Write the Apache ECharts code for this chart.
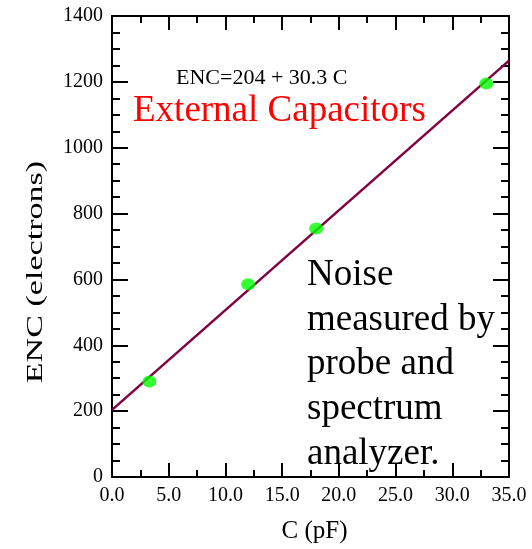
<!DOCTYPE html>
<html>
<head>
<meta charset="utf-8">
<script src="https://cdn.jsdelivr.net/npm/echarts@6/dist/echarts.min.js"></script>
<style>
  html, body { margin: 0; padding: 0; background: #fff; }
  #main { width: 532px; height: 549px; }
</style>
</head>
<body>
<div id="main"></div>
<script>
// measured points
var capPF = [3.3, 12.0, 18.0, 33.0];
var encVals = [290, 585, 755, 1195];
// fit line ENC = 204 + 30.3 C, end points
var fitC = [0, 35];
var fitEnc = [204, 1264.5];
var noteLines = ['Noise', 'measured by', 'probe and', 'spectrum', 'analyzer.'];

var font = '"Liberation Serif", "DejaVu Serif", serif';
var chart = echarts.init(document.getElementById('main'));

var tickX = {
  min: 0, max: 35, interval: 5,
  axisLine: { onZero: false, lineStyle: { color: '#000', width: 2 } },
  axisTick: { inside: true, length: 14, lineStyle: { color: '#000', width: 2 } },
  minorTick: { show: true, splitNumber: 2, length: 7, lineStyle: { color: '#000', width: 2 } },
  splitLine: { show: false }
};
var tickY = {
  min: 0, max: 1400, interval: 200,
  axisLine: { onZero: false, lineStyle: { color: '#000', width: 2 } },
  axisTick: { inside: true, length: 16, lineStyle: { color: '#000', width: 2 } },
  minorTick: { show: true, splitNumber: 4, length: 8, lineStyle: { color: '#000', width: 2 } },
  splitLine: { show: false }
};

var option = {
  animation: false,
  backgroundColor: '#fff',
  grid: { left: 112, right: 23, top: 16, bottom: 67 },
  xAxis: [
    Object.assign({}, tickX, {
      type: 'value', position: 'bottom',
      name: 'C (pF)', nameLocation: 'middle', nameGap: 42,
      nameTextStyle: { fontFamily: font, fontSize: 25, color: '#000', padding: [0, 0, 0, 8] },
      axisLabel: { fontFamily: font, fontSize: 20, color: '#000', margin: 9,
        formatter: function (v) { return v.toFixed(1); } }
    }),
    Object.assign({}, tickX, { type: 'value', position: 'top', axisLabel: { show: false } })
  ],
  yAxis: [
    Object.assign({}, tickY, {
      type: 'value', position: 'left',
      axisLabel: { fontFamily: font, fontSize: 20, color: '#000', margin: 9,
        formatter: function (v) { return String(v); } }
    }),
    Object.assign({}, tickY, { type: 'value', position: 'right', axisLabel: { show: false } })
  ],
  series: [
    {
      type: 'line',
      data: fitC.map(function (c, i) { return [c, fitEnc[i]]; }),
      symbol: 'none',
      lineStyle: { color: '#800040', width: 2.5 },
      z: 2
    },
    {
      type: 'scatter',
      data: capPF.map(function (c, i) { return [c, encVals[i]]; }),
      symbolSize: [14, 12],
      itemStyle: { color: '#00ff00' },
      z: 3
    }
  ],
  graphic: [
    { type: 'text', x: 36, y: 272, rotation: Math.PI / 2, scaleX: 1.42,
      style: { text: 'ENC (electrons)', font: '24px ' + font, fill: '#000',
        align: 'center', verticalAlign: 'middle' } },
    { type: 'text', left: 176, top: 67,
      style: { text: 'ENC=204 + 30.3 C', font: '22px ' + font, fill: '#000' } },
    { type: 'text', left: 133, top: 93,
      style: { text: 'External Capacitors', font: '37px ' + font, fill: '#ff0000' } },
    { type: 'text', left: 307, top: 253,
      style: { text: noteLines.join('\n'), font: '37px ' + font, fill: '#000', lineHeight: 44.7 } }
  ]
};

chart.setOption(option);
</script>
</body>
</html>
